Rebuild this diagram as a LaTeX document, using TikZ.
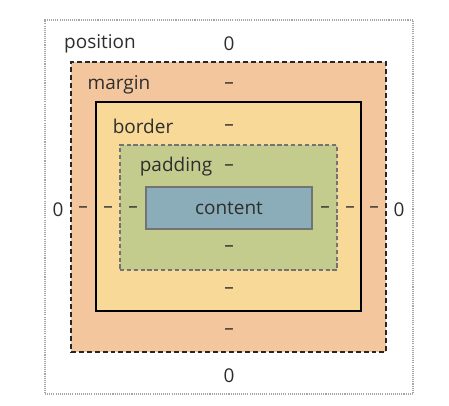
\documentclass[tikz,border=0pt]{standalone}
\usepackage{fontspec}
\setmainfont{Open Sans}
\usepackage{tikz}
\usetikzlibrary{positioning}
\usepackage{xcolor}
\definecolor{marginc}{HTML}{F3C69E}
\definecolor{borderc}{HTML}{F8D997}
\definecolor{paddingc}{HTML}{C3CC8C}
\definecolor{contentc}{HTML}{8AADB9}
\definecolor{textc}{HTML}{2E2E2E}
\tikzset{
  bmbox/.style={rectangle, inner sep=0pt, outer sep=0pt},
  bmtext/.style={text=textc, inner sep=1pt, font=\fontsize{10.8}{12}\selectfont},
  bmdash/.style={bmtext},
}

\begin{document}
\begin{tikzpicture}
  \useasboundingbox (0,0) rectangle (8.98,-8.12);

  % nested boxes
  \node[bmbox, draw=black!35, line width=0.6pt, dash pattern=on 0.6pt off 0.6pt,
    minimum width=7.36cm, minimum height=7.48cm] (position) at (4.58,-4.14) {};
  \node[bmbox, fill=marginc, draw=black!85, line width=0.9pt, dash pattern=on 2.8pt off 1.7pt,
    minimum width=6.30cm, minimum height=5.80cm] (margin) at (4.57,-4.14) {};
  \node[bmbox, fill=borderc, draw=black, line width=0.9pt,
    minimum width=5.30cm, minimum height=4.18cm] (border) at (4.57,-4.13) {};
  \node[bmbox, fill=paddingc, draw=black!55, line width=0.75pt, dash pattern=on 2.4pt off 1.5pt,
    minimum width=4.34cm, minimum height=2.50cm] (padding) at (4.57,-4.15) {};
  \node[bmbox, fill=contentc, draw=black!55, line width=0.7pt,
    minimum width=3.32cm, minimum height=0.84cm] (content) at (4.58,-4.16) {};
  \node[bmtext] (contentlbl) at (content.center) {content};

  % top row labels
  \node[bmtext] (positionlbl) at (2.00,-0.88) {position};
  \node[bmtext] (postop) at (4.58,-0.88) {0};
  \node[bmtext] (marginlbl) at (2.38,-1.70) {margin};
  \node[bmdash] (margintop) at (4.58,-1.72) {\textendash};
  \node[bmtext] (borderlbl) at (2.86,-2.52) {border};
  \node[bmdash] (bordertop) at (4.58,-2.55) {\textendash};
  \node[bmtext] (paddinglbl) at (3.52,-3.34) {padding};
  \node[bmdash] (paddingtop) at (4.58,-3.36) {\textendash};

  % left side
  \node[bmtext] (posleft) at (1.16,-4.20) {0};
  \node[bmdash] (marginleft) at (1.66,-4.20) {\textendash};
  \node[bmdash] (borderleft) at (2.16,-4.20) {\textendash};
  \node[bmdash] (paddingleft) at (2.66,-4.20) {\textendash};

  % right side
  \node[bmdash] (paddingright) at (6.50,-4.20) {\textendash};
  \node[bmdash] (borderright) at (7.00,-4.20) {\textendash};
  \node[bmdash] (marginright) at (7.48,-4.20) {\textendash};
  \node[bmtext] (posright) at (7.98,-4.20) {0};

  % bottom row
  \node[bmdash] (paddingbottom) at (4.58,-4.98) {\textendash};
  \node[bmdash] (borderbottom) at (4.58,-5.82) {\textendash};
  \node[bmdash] (marginbottom) at (4.58,-6.64) {\textendash};
  \node[bmtext] (posbottom) at (4.58,-7.52) {0};
\end{tikzpicture}
\end{document}
